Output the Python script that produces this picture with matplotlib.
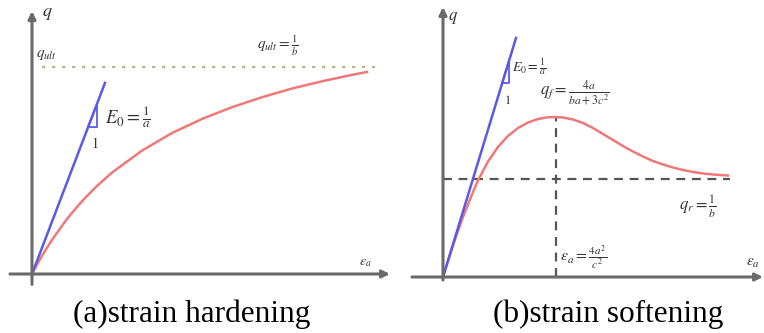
import matplotlib.pyplot as plt
import numpy as np

plt.rcParams['mathtext.fontset'] = 'stix'

# strain hardening: hyperbolic stress-strain curve (eps, q)
hard_eps = [0, 0.05, 0.1, 0.2, 0.35, 0.45, 0.55, 0.65, 0.8, 1.1, 1.4, 1.7, 2.0, 2.3, 2.6, 2.9, 3.2, 3.35]
hard_q = [0, 0.045, 0.088, 0.165, 0.266, 0.324, 0.377, 0.425, 0.490, 0.596, 0.681, 0.749,
          0.806, 0.854, 0.896, 0.931, 0.962, 0.976]
hard_tangent_eps = [0, 0.73]
hard_tangent_q = [0, 0.923]
hard_tri_eps = [0.56, 0.65, 0.65]
hard_tri_q = [0.710, 0.710, 0.821]
q_ult = 1.0

# strain softening: peak then drop to residual strength
soft_eps = [0, 0.05, 0.1, 0.15, 0.2, 0.25, 0.3, 0.35, 0.45, 0.55, 0.65, 0.75, 0.85, 0.95, 1.05,
            1.13, 1.2, 1.3, 1.4, 1.5, 1.6, 1.7, 1.8, 1.9, 2.0, 2.1, 2.2, 2.3, 2.4, 2.5, 2.6,
            2.7, 2.85]
soft_q = [0, 0.16, 0.315, 0.46, 0.60, 0.725, 0.85, 0.965, 1.155, 1.30, 1.41, 1.49, 1.545, 1.58,
          1.598, 1.60, 1.595, 1.575, 1.54, 1.49, 1.43, 1.37, 1.31, 1.255, 1.205, 1.16, 1.125,
          1.095, 1.07, 1.05, 1.035, 1.025, 1.015]
soft_tangent_eps = [0, 0.73]
soft_tangent_q = [0, 2.39]
soft_tri_eps = [0.59, 0.66, 0.66]
soft_tri_q = [1.94, 1.94, 2.16]
q_f = 1.60
eps_f = 1.13
q_r = 0.98

W, H = 764, 333
fig = plt.figure(figsize=(W / 100, H / 100), dpi=100)

axis_col = '#6a6a6a'
blue = '#5a5ae6'
red = '#f07878'
txt = '#333333'


def make_axes(px0, px1, ox, oy, sx, sy):
    # axes spanning pixel columns px0..px1, rows 0..285, origin at (ox, oy)
    ax = fig.add_axes([px0 / W, (H - 285) / H, (px1 - px0) / W, 285 / H])
    ax.set_xlim((px0 - ox) / sx, (px1 - ox) / sx)
    ax.set_ylim((oy - 285) / sy, oy / sy)
    ax.axis('off')
    return ax


def draw_axes(ax, x0, x1, y0, y1):
    arrow = dict(arrowstyle='-|>', color=axis_col, lw=2.2, mutation_scale=11,
                 shrinkA=0, shrinkB=0)
    ax.annotate('', xy=(x1, 0), xytext=(x0, 0), arrowprops=arrow)
    ax.annotate('', xy=(0, y1), xytext=(0, y0), arrowprops=arrow)


# (a) strain hardening
ax1 = make_axes(5, 395, 32, 274, 100, 207)
draw_axes(ax1, -0.22, 3.58, -0.05, 1.27)
ax1.plot([0.10, 3.43], [q_ult, q_ult], color='#b8b880', lw=1.6, linestyle=(0, (1.5, 3)))
ax1.plot(hard_eps, hard_q, color=red, lw=1.8)
ax1.plot(hard_tangent_eps, hard_tangent_q, color=blue, lw=1.8)
ax1.plot(hard_tri_eps + hard_tri_eps[:1], hard_tri_q + hard_tri_q[:1], color=blue, lw=1.3)
ax1.text(0.15, 1.26, r'$q$', fontsize=13, color=txt, ha='center', va='center')
ax1.text(0.15, 1.058, r'$q_{ult}$', fontsize=11, color=txt, ha='center', va='center')
ax1.text(2.25, 1.105, r'$q_{ult}=\frac{1}{b}$', fontsize=11, color=txt, ha='left', va='center')
ax1.text(0.73, 0.76, r'$E_0=\frac{1}{a}$', fontsize=13.5, color=txt, ha='left', va='center')
ax1.text(0.63, 0.63, r'$1$', fontsize=10, color=txt, ha='center', va='center')
ax1.text(3.33, 0.06, r'$\varepsilon_a$', fontsize=10, color=txt, ha='center', va='center')

# (b) strain softening
ax2 = make_axes(400, 764, 443, 277, 100, 100)
draw_axes(ax2, -0.31, 3.20, -0.03, 2.70)
ax2.plot([0, 2.87], [q_r, q_r], color='#555555', lw=1.6, linestyle=(0, (4, 3)))
ax2.plot([eps_f, eps_f], [0, q_f], color='#555555', lw=1.6, linestyle=(0, (4, 3)))
ax2.plot(soft_eps, soft_q, color=red, lw=1.8)
ax2.plot(soft_tangent_eps, soft_tangent_q, color=blue, lw=1.8)
ax2.plot(soft_tri_eps + soft_tri_eps[:1], soft_tri_q + soft_tri_q[:1], color=blue, lw=1.3)
ax2.text(0.10, 2.60, r'$q$', fontsize=12, color=txt, ha='center', va='center')
ax2.text(0.69, 2.10, r'$E_0=\frac{1}{a}$', fontsize=10, color=txt, ha='left', va='center')
ax2.text(0.64, 1.77, r'$1$', fontsize=9, color=txt, ha='center', va='center')
ax2.text(0.97, 1.84, r'$q_f=\frac{4a}{ba+3c^2}$', fontsize=12, color=txt, ha='left', va='center')
ax2.text(2.36, 0.70, r'$q_r=\frac{1}{b}$', fontsize=12, color=txt, ha='left', va='center')
ax2.text(1.17, 0.19, r'$\varepsilon_a=\frac{4a^2}{c^2}$', fontsize=11.5, color=txt, ha='left', va='center')
ax2.text(3.10, 0.15, r'$\varepsilon_a$', fontsize=11, color=txt, ha='center', va='center')

cap = dict(family='Liberation Serif', fontsize=22.5, ha='center', va='baseline')
fig.text(192 / W, 11 / H, '(a)strain hardening', **cap)
fig.text(608 / W, 11 / H, '(b)strain softening', **cap)

fig.savefig('out.png', dpi=100)
